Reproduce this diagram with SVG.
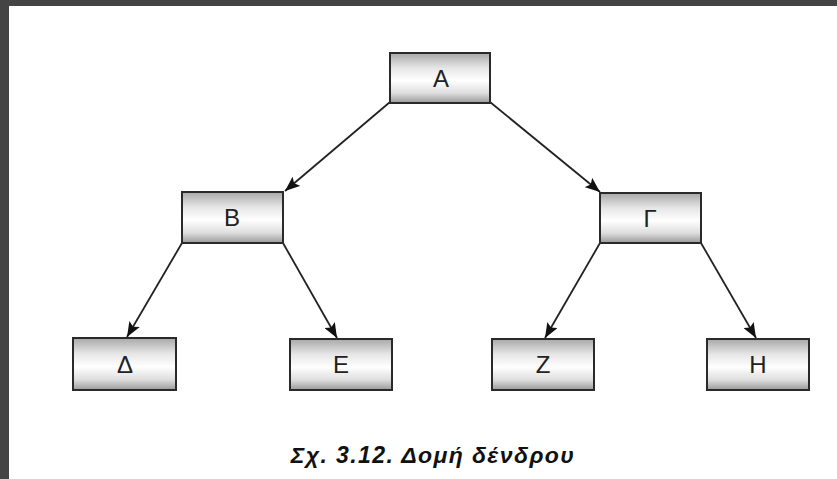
<svg xmlns="http://www.w3.org/2000/svg" width="837" height="479" viewBox="0 0 837 479">
<defs>
<linearGradient id="g" x1="0" y1="0" x2="0" y2="1">
<stop offset="0" stop-color="#a8a8a8"/>
<stop offset="0.3" stop-color="#e6e6e6"/>
<stop offset="0.55" stop-color="#ffffff"/>
<stop offset="0.8" stop-color="#dedede"/>
<stop offset="1" stop-color="#999999"/>
</linearGradient>
<marker id="ah" viewBox="0 0 15 12" refX="15" refY="6" markerWidth="15" markerHeight="12" markerUnits="userSpaceOnUse" orient="auto">
<path d="M0,0 L15,6 L0,12 L3,6 Z" fill="#111"/>
</marker>
<style>
.box{fill:url(#g);stroke:#2a2a2a;stroke-width:2}
.lbl{font-family:"Liberation Sans",Arial,sans-serif;font-size:24px;fill:#222;text-anchor:middle}
.edge{stroke:#222;stroke-width:1.8;fill:none;marker-end:url(#ah)}
.cap{font-family:"Liberation Sans",Arial,sans-serif;font-size:23px;font-weight:bold;font-style:italic;fill:#111;text-anchor:middle;letter-spacing:1.4px}
</style>
</defs>
<rect x="0" y="0" width="837" height="479" fill="#ffffff"/>
<rect x="0" y="0" width="837" height="6" fill="#444444"/>
<rect x="0" y="0" width="9" height="479" fill="#444444"/>
<g id="connectors">
<line class="edge" x1="390" y1="102" x2="285" y2="191"/>
<line class="edge" x1="490" y1="102" x2="600" y2="192"/>
<line class="edge" x1="182" y1="243" x2="127" y2="337"/>
<line class="edge" x1="283" y1="243" x2="337" y2="338"/>
<line class="edge" x1="600" y1="243" x2="545" y2="338"/>
<line class="edge" x1="701" y1="243" x2="756" y2="338"/>
</g>
<g id="node-A"><rect class="box" x="390" y="53" width="100" height="50"/><text class="lbl" x="441" y="87">A</text></g>
<g id="node-B"><rect class="box" x="182" y="192" width="101" height="51"/><text class="lbl" x="232" y="226">B</text></g>
<g id="node-G"><rect class="box" x="600" y="193" width="101" height="50"/><text class="lbl" x="650" y="227">Γ</text></g>
<g id="node-D"><rect class="box" x="73" y="338" width="103" height="52"/><text class="lbl" x="125" y="373">Δ</text></g>
<g id="node-E"><rect class="box" x="290" y="339" width="102" height="51"/><text class="lbl" x="341" y="373">E</text></g>
<g id="node-Z"><rect class="box" x="492" y="339" width="102" height="51"/><text class="lbl" x="543" y="373">Z</text></g>
<g id="node-H"><rect class="box" x="707" y="339" width="102" height="51"/><text class="lbl" x="758" y="373">H</text></g>
<text class="cap" x="433" y="463">Σχ. 3.12. Δομή δένδρου</text>
</svg>
